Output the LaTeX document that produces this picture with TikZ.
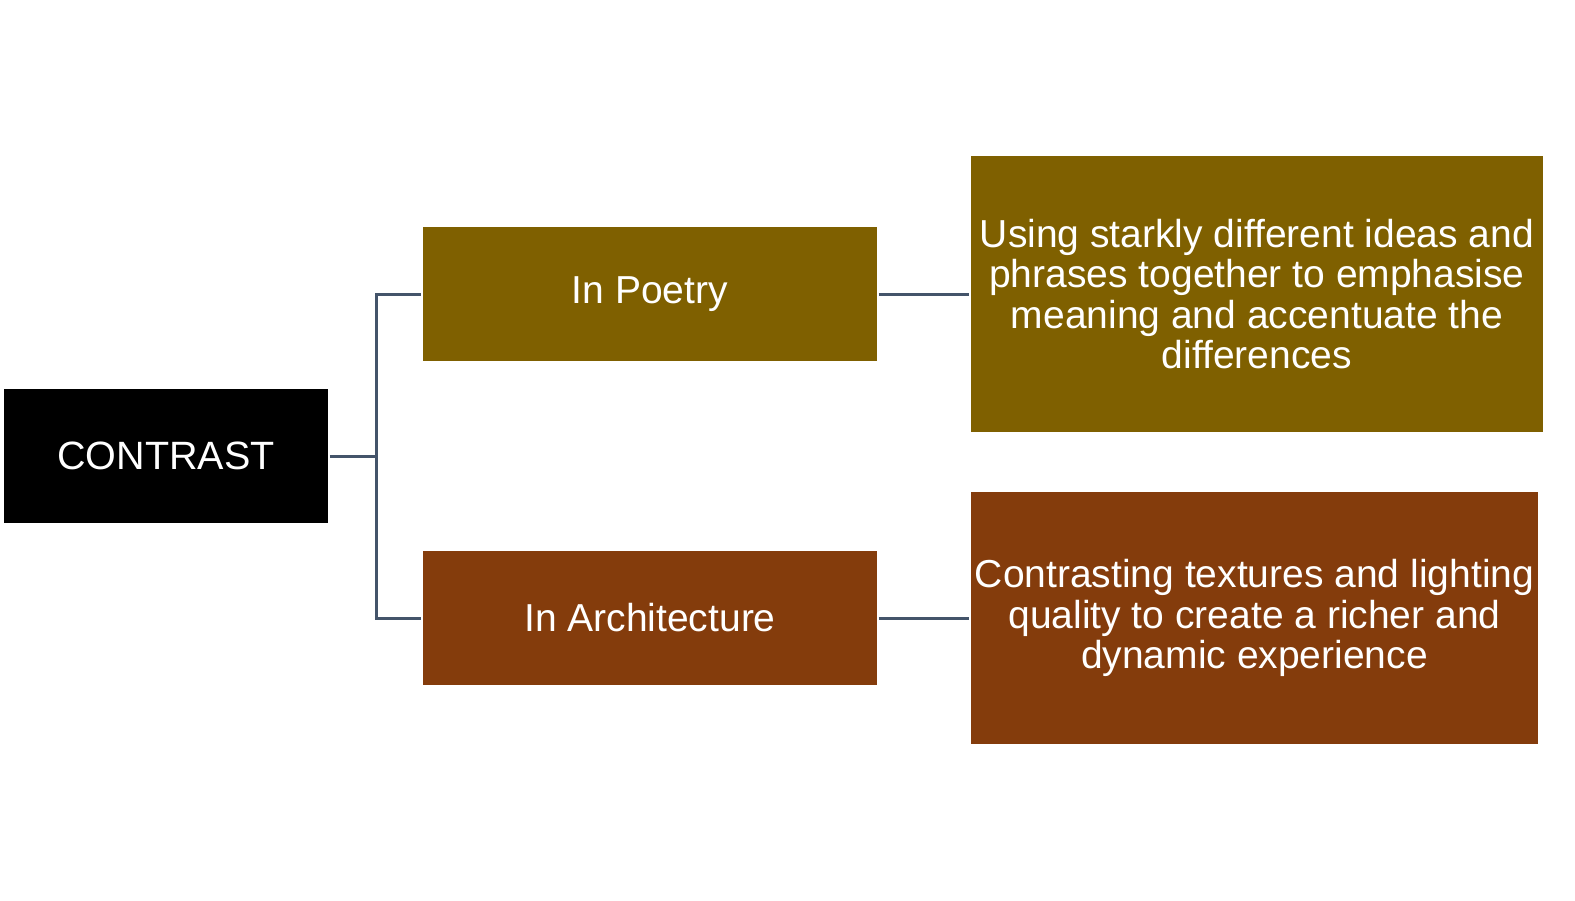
\documentclass[tikz,border=0pt]{standalone}
\usepackage{fontspec}
\setmainfont{Liberation Sans}
\definecolor{gold}{HTML}{7F6000}
\definecolor{rust}{HTML}{843C0C}
\definecolor{slate}{HTML}{44546A}
\begin{document}
\begin{tikzpicture}[x=1pt,y=-1pt,
  box/.style={rectangle, draw=white, line width=1.5pt, text=white, inner sep=0pt, align=center},
  link/.style={draw=slate, line width=3pt}]
\useasboundingbox (0,0) rectangle (1575,900);
\fill[white] (0,0) rectangle (1575,900);
\node[box, fill=black, minimum width=326pt, minimum height=136pt, font=\fontsize{39.5}{45}\selectfont] (c) at (166,456) {CONTRAST};
\node[box, fill=gold, minimum width=456pt, minimum height=136pt, font=\fontsize{39}{45}\selectfont] (p) at (650,294) {In Poetry};
\node[box, fill=rust, minimum width=456pt, minimum height=136pt, font=\fontsize{39}{45}\selectfont] (a) at (650,618) {In Architecture};
\node[box, fill=gold, minimum width=574pt, minimum height=278pt, font=\fontsize{39}{40.5}\selectfont] (pt) at (1257,294) {Using starkly different ideas and\\phrases together to emphasise\\meaning and accentuate the\\differences};
\node[box, fill=rust, minimum width=569pt, minimum height=254pt, font=\fontsize{39}{40.5}\selectfont] (at) at (1254.5,618) {Contrasting textures and lighting\\quality to create a richer and\\dynamic experience};
\coordinate (j) at (376,456);
\draw[link] (c.east) -- (j) |- (p.west);
\draw[link] (j) |- (a.west);
\draw[link] (p.east) -- (pt.west);
\draw[link] (a.east) -- (at.west);
\end{tikzpicture}
\end{document}
